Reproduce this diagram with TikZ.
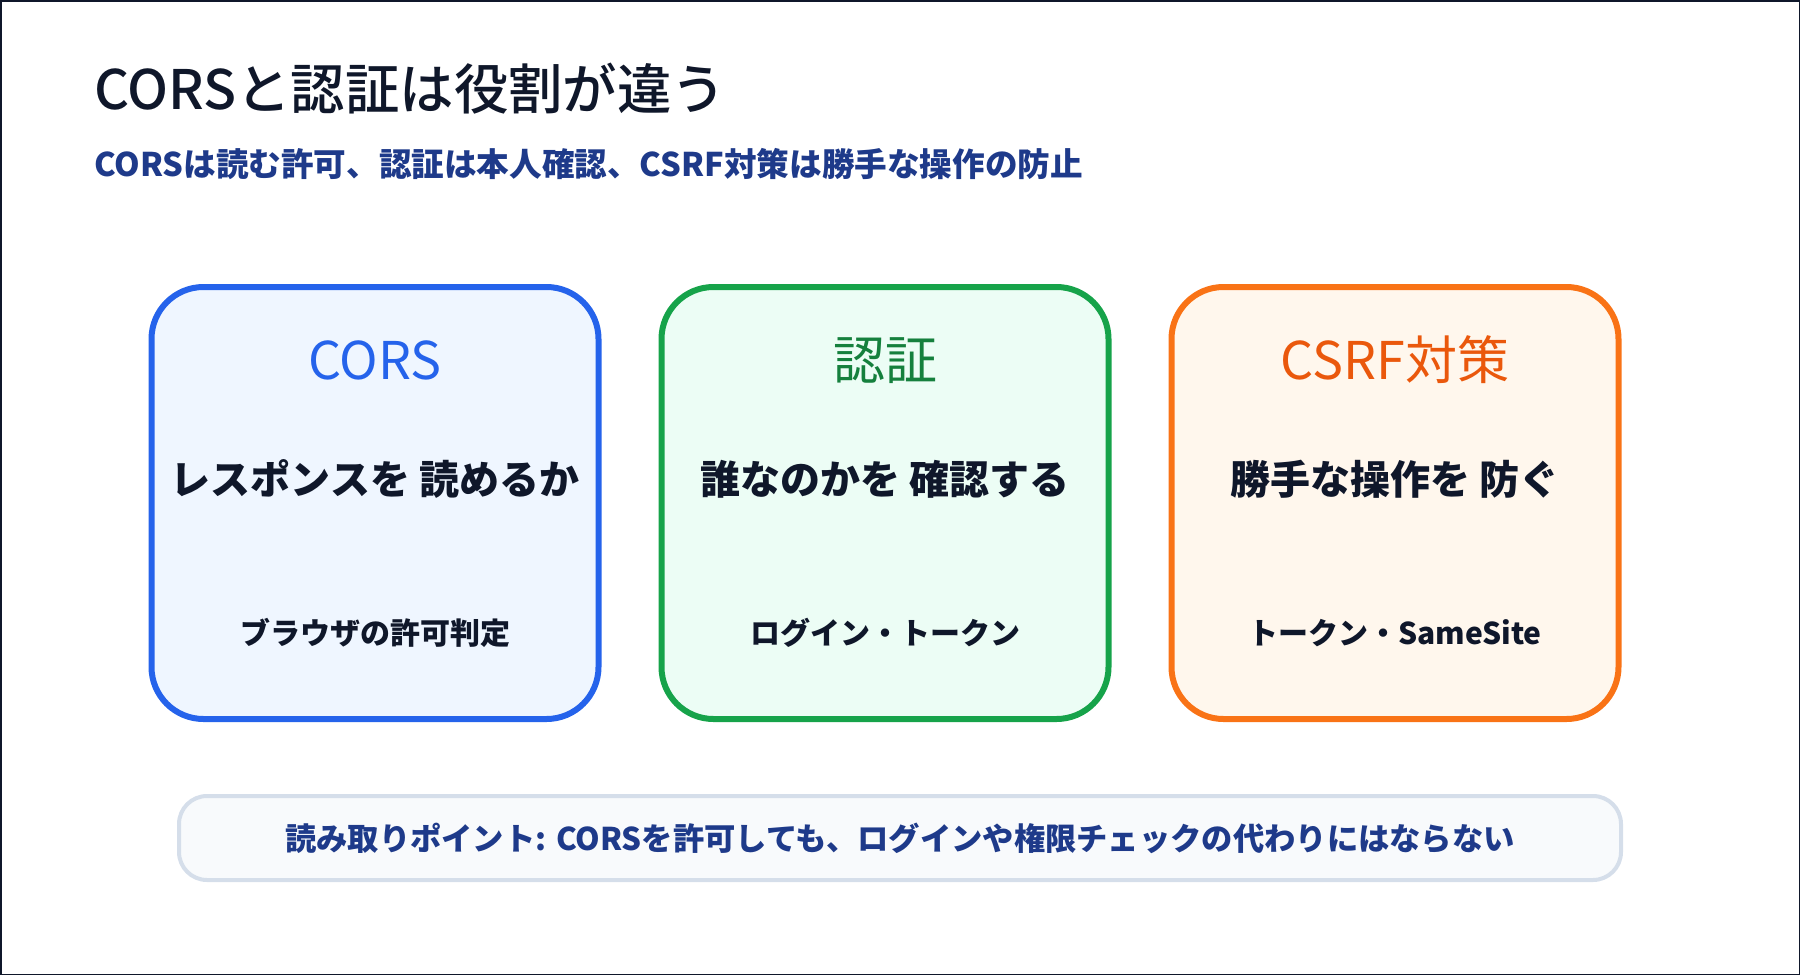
\documentclass[tikz,border=0pt]{standalone}
\usepackage{fontspec}
\setmainfont{Noto Sans CJK JP}
\newfontfamily\midfont{Noto Sans CJK JP Medium}
\usetikzlibrary{positioning}
\definecolor{ink}{HTML}{0F172A}
\definecolor{navy}{HTML}{1E3A8A}
\definecolor{corsline}{HTML}{2563EB}
\definecolor{corsfill}{HTML}{EFF6FF}
\definecolor{authline}{HTML}{16A34A}
\definecolor{authtext}{HTML}{15803D}
\definecolor{authfill}{HTML}{ECFDF5}
\definecolor{csrfline}{HTML}{F97316}
\definecolor{csrftext}{HTML}{EA580C}
\definecolor{csrffill}{HTML}{FFF7ED}
\definecolor{noteline}{HTML}{D5DEEA}
\definecolor{notefill}{HTML}{F8FAFC}

\begin{document}
\begin{tikzpicture}[x=1pt, y=-1pt,
    card/.style={draw, line width=6pt, rounded corners=52pt, minimum width=447pt, minimum height=432pt},
    head/.style={anchor=base, inner sep=0pt, font=\fontsize{52}{58}\selectfont},
    role/.style={anchor=base, inner sep=0pt, text=ink, font=\fontsize{40}{46}\selectfont\bfseries},
    tool/.style={anchor=base, inner sep=0pt, text=ink, font=\fontsize{30}{34}\selectfont\bfseries},
    notebar/.style={draw=noteline, fill=notefill, line width=4pt, rounded corners=28pt, minimum width=1442pt, minimum height=84pt}
]
\useasboundingbox (0,0) rectangle (1800,975);
\draw[ink, line width=1.5pt] (0.75,0.75) rectangle (1799.25,974.25);

% タイトル
\node[anchor=base west, inner sep=0pt, text=ink, font=\fontsize{54.4}{60}\midfont] (title) at (94,109) {CORSと認証は役割が違う};
\node[anchor=base west, inner sep=0pt, text=navy, font=\fontsize{32.6}{36}\selectfont\bfseries] (subtitle) at (94,176) {CORSは読む許可、認証は本人確認、CSRF対策は勝手な操作の防止};

% CORS
\node[card, draw=corsline, fill=corsfill] (cors) at (375,503) {};
\node[head, text=corsline] (corshead) at (375,379) {CORS};
\node[role] (corsrole) at (375,494) {レスポンスを 読めるか};
\node[tool] (corstool) at (375,644) {ブラウザの許可判定};

% 認証
\node[card, draw=authline, fill=authfill] (auth) at (885,503) {};
\node[head, text=authtext] (authhead) at (885,379) {認証};
\node[role] (authrole) at (885,494) {誰なのかを 確認する};
\node[tool] (authtool) at (885,644) {ログイン・トークン};

% CSRF対策
\node[card, draw=csrfline, fill=csrffill] (csrf) at (1395,503) {};
\node[head, text=csrftext] (csrfhead) at (1395,379) {CSRF対策};
\node[role] (csrfrole) at (1395,494) {勝手な操作を 防ぐ};
\node[tool] (csrftool) at (1395,644) {トークン・SameSite};

% まとめ
\node[notebar] (note) at (900,838) {};
\node[anchor=base, inner sep=0pt, text=navy, font=\fontsize{31.3}{35}\selectfont\bfseries] (notetext) at (900,850) {読み取りポイント: CORSを許可しても、ログインや権限チェックの代わりにはならない};

\end{tikzpicture}
\end{document}
